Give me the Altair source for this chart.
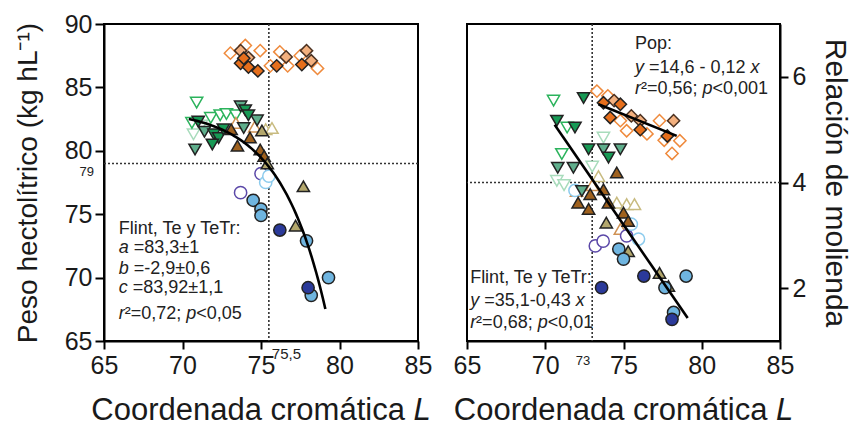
import math
import altair as alt
import pandas as pd

# ---------------- data ----------------
# Left panel: Coordenada cromática L  vs  Peso hectolítrico
l_pop_open_L = [73.05, 74.0, 74.95, 75.6, 76.7, 78.6, 76.2, 77.5]
l_pop_open_v = [87.7, 88.3, 87.9, 86.7, 86.7, 86.5, 87.8, 87.5]
l_pop_light_L = [73.7, 74.2, 77.9, 78.2, 76.6]
l_pop_light_v = [87.9, 87.35, 87.9, 87.1, 87.4]
l_pop_dark_L = [73.7, 74.2, 74.8, 76.0, 77.6, 73.9]
l_pop_dark_v = [86.9, 86.6, 86.3, 86.7, 86.8, 87.3]

l_fl_pale_L = [70.7, 71.2]
l_fl_pale_v = [81.3, 82.0]
l_fl_open_L = [70.9, 70.6, 71.8, 72.4, 72.8, 73.4]
l_fl_open_v = [83.8, 82.2, 82.6, 82.8, 82.9, 82.8]
l_fl_mid_L = [70.8, 73.7, 74.75, 73.9, 71.4]
l_fl_mid_v = [80.1, 83.5, 82.4, 81.8, 81.5]
l_fl_dark_L = [72.0, 72.3, 72.6, 74.0, 74.2, 71.9, 71.0]
l_fl_dark_v = [81.3, 81.0, 81.7, 83.2, 82.8, 80.5, 82.3]

l_te_openk_L = [75.3, 75.7]
l_te_openk_v = [81.7, 81.8]
l_te_openb_L = [73.4, 74.6]
l_te_openb_v = [82.2, 81.9]
l_te_brown_L = [73.5, 74.3, 74.95, 75.2, 73.1]
l_te_brown_v = [80.4, 81.05, 80.1, 79.6, 81.7]
l_te_khaki_L = [75.06, 75.4, 77.7, 77.2]
l_te_khaki_v = [81.6, 79.0, 77.2, 74.1]

l_tr_openp_L = [73.7, 75.0]
l_tr_openp_v = [76.7, 78.2]
l_tr_openl_L = [75.3, 75.5]
l_tr_openl_v = [77.5, 78.0]
l_tr_light_L = [74.5, 75.0, 75.0, 77.9, 78.2, 79.3]
l_tr_light_v = [76.1, 75.4, 74.9, 72.9, 68.6, 70.0]
l_tr_dark_L = [76.2, 78.0]
l_tr_dark_v = [73.75, 69.2]

# Right panel: Coordenada cromática L  vs  Relación de molienda
r_pop_open_L = [73.3, 74.0, 74.8, 75.2, 76.5, 77.3, 77.6, 78.1, 78.6]
r_pop_open_v = [5.73, 5.64, 5.17, 4.98, 4.92, 5.17, 4.8, 4.55, 4.79]
r_pop_light_L = [74.4, 75.5, 76.07, 78.2]
r_pop_light_v = [5.55, 5.26, 5.17, 5.17]
r_pop_dark_L = [73.72, 74.15, 74.8, 76.07, 77.8]
r_pop_dark_v = [5.51, 5.23, 5.48, 5.0, 4.88]

r_fl_pale_L = [73.72, 70.74, 73.0, 71.2]
r_fl_pale_v = [4.85, 4.03, 4.3, 3.95]
r_fl_open_L = [70.53, 71.4, 71.06]
r_fl_open_v = [5.55, 5.04, 4.54]
r_fl_mid_L = [73.72, 74.8, 70.8, 71.8, 72.34]
r_fl_mid_v = [4.63, 4.63, 4.28, 4.28, 3.84]
r_fl_dark_L = [72.45, 70.74, 71.9, 72.77, 74.04]
r_fl_dark_v = [5.6, 5.17, 5.04, 4.63, 4.47]

r_te_openk_L = [73.4, 74.57, 75.2, 75.7]
r_te_openk_v = [4.12, 3.62, 3.59, 3.59]
r_te_openb_L = [72.0, 74.8, 73.0]
r_te_openb_v = [3.84, 3.12, 3.95]
r_te_brown_L = [74.57, 72.87, 73.72, 72.1, 72.77, 74.04, 75.0, 75.3]
r_te_brown_v = [4.19, 3.78, 3.87, 3.62, 3.5, 3.62, 3.43, 3.27]
r_te_khaki_L = [73.9, 75.3, 77.3, 77.87]
r_te_khaki_v = [3.24, 2.7, 2.29, 2.04]

r_tr_openp_L = [73.2, 73.7, 75.2]
r_tr_openp_v = [2.8, 2.89, 2.99]
r_tr_openl_L = [75.5, 75.96, 71.9]
r_tr_openl_v = [3.21, 2.93, 3.85]
r_tr_light_L = [74.7, 75.0, 79.0, 77.65, 78.2]
r_tr_light_v = [2.74, 2.55, 2.23, 2.01, 1.54]
r_tr_dark_L = [73.6, 76.3, 78.1]
r_tr_dark_v = [2.01, 2.23, 1.41]

# fitted models (from the picture)
left_curve = dict(a=83.3, b=2.9, x0=71.1, xmin=70.4, xmax=79.1)
right_flint = dict(i=35.45, s=-0.43, xmin=70.6, xmax=79.1)
right_pop = dict(i=14.29, s=-0.12, xmin=73.4, xmax=78.4)

# reference lines
left_vline, left_hline = [75.5], [79]
right_vline, right_hline = [73], [4]

x_ticks = [65, 70, 75, 80, 85]
left_y_ticks = [65, 70, 75, 80, 85, 90]
right_y_ticks = [2, 4, 6]

# ---------------- styles ----------------
GROUPS = ["pop_open", "pop_light", "pop_dark",
          "fl_pale", "fl_open", "fl_mid", "fl_dark",
          "te_openk", "te_openb", "te_brown", "te_khaki",
          "tr_openp", "tr_openl", "tr_light", "tr_dark"]
SHAPE = {"pop": "diamond", "fl": "triangle-down", "te": "triangle-up", "tr": "circle"}
FILL = {"pop_open": "white", "pop_light": "#f3b07e", "pop_dark": "#e66f1c",
        "fl_pale": "white", "fl_open": "white", "fl_mid": "#5fae8c", "fl_dark": "#179a55",
        "te_openk": "white", "te_openb": "white", "te_brown": "#9f611e", "te_khaki": "#b3a76c",
        "tr_openp": "white", "tr_openl": "white", "tr_light": "#6fb5e0", "tr_dark": "#2b3a9a"}
STROKE = {"pop_open": "#ef8a3c", "pop_light": "#4a3020", "pop_dark": "#222222",
          "fl_pale": "#a8dcbc", "fl_open": "#2bb35c", "fl_mid": "#222222", "fl_dark": "#222222",
          "te_openk": "#c8bb80", "te_openb": "#cf9254", "te_brown": "#222222", "te_khaki": "#222222",
          "tr_openp": "#5b48a8", "tr_openl": "#8ccbed", "tr_light": "#222222", "tr_dark": "#222222"}
SIZE = {"pop": 150, "fl": 150, "te": 150, "tr": 115}

FONT = "Liberation Sans"
TXT = 18
TITLE = 31
W = {'F': .611, 'l': .222, 'i': .222, 'n': .556, 't': .278, ',': .278, ' ': .278, 'T': .611,
     'e': .556, 'y': .5, 'r': .333, ':': .278, 'a': .556, '=': .584, '.': .278, '±': .584,
     'b': .556, '-': .333, 'c': .5, '²': .333, ';': .278, 'p': .556, '<': .584, 'P': .667,
     'o': .556, 'x': .5, 'C': .722, 'd': .556, 'm': .833, 'á': .556, 'L': .556}


def tw(s, size=TXT):
    return sum(W.get(c, .556) for c in s) * size


def points(prefix_lists):
    rows = []
    for g, Ls, vs in prefix_lists:
        for L, v in zip(Ls, vs):
            rows.append(dict(kind="pt", grp=g, L=L, v=v))
    return rows


def text_rows(lines, x0, ppu):
    rows = []
    for yv, pieces in lines:
        off = 0.0
        for txt, it in pieces:
            lead = len(txt) - len(txt.lstrip(" "))
            off += tw(" " * lead)
            body = txt.lstrip(" ")
            rows.append(dict(kind="txt", L=x0 + off / ppu, v=yv, text=body.rstrip(" "),
                             it="it" if it else "n"))
            off += tw(body)
    return rows


def group_rows(spec):
    return points(spec)


left_pts = points([
    ("pop_open", l_pop_open_L, l_pop_open_v), ("pop_light", l_pop_light_L, l_pop_light_v),
    ("pop_dark", l_pop_dark_L, l_pop_dark_v),
    ("fl_pale", l_fl_pale_L, l_fl_pale_v), ("fl_open", l_fl_open_L, l_fl_open_v),
    ("te_openk", l_te_openk_L, l_te_openk_v), ("te_openb", l_te_openb_L, l_te_openb_v),
    ("tr_openp", l_tr_openp_L, l_tr_openp_v), ("tr_openl", l_tr_openl_L, l_tr_openl_v),
    ("fl_mid", l_fl_mid_L, l_fl_mid_v), ("fl_dark", l_fl_dark_L, l_fl_dark_v),
    ("te_brown", l_te_brown_L, l_te_brown_v), ("te_khaki", l_te_khaki_L, l_te_khaki_v),
    ("tr_light", l_tr_light_L, l_tr_light_v), ("tr_dark", l_tr_dark_L, l_tr_dark_v),
])
right_pts = points([
    ("pop_open", r_pop_open_L, r_pop_open_v), ("pop_light", r_pop_light_L, r_pop_light_v),
    ("pop_dark", r_pop_dark_L, r_pop_dark_v),
    ("fl_pale", r_fl_pale_L, r_fl_pale_v), ("fl_open", r_fl_open_L, r_fl_open_v),
    ("te_openk", r_te_openk_L, r_te_openk_v), ("te_openb", r_te_openb_L, r_te_openb_v),
    ("tr_openp", r_tr_openp_L, r_tr_openp_v), ("tr_openl", r_tr_openl_L, r_tr_openl_v),
    ("fl_mid", r_fl_mid_L, r_fl_mid_v), ("fl_dark", r_fl_dark_L, r_fl_dark_v),
    ("te_brown", r_te_brown_L, r_te_brown_v), ("te_khaki", r_te_khaki_L, r_te_khaki_v),
    ("tr_light", r_tr_light_L, r_tr_light_v), ("tr_dark", r_tr_dark_L, r_tr_dark_v),
])

# fit lines
left_fit = []
n = 60
for k in range(n + 1):
    x = left_curve["xmin"] + (left_curve["xmax"] - left_curve["xmin"]) * k / n
    y = left_curve["a"] - math.exp((x - left_curve["x0"]) / left_curve["b"])
    left_fit.append(dict(kind="fit", grp="flint", L=x, v=y))
right_fit = []
for name, p in (("flint", right_flint), ("pop", right_pop)):
    for x in (p["xmin"], p["xmax"]):
        right_fit.append(dict(kind="fit", grp=name, L=x, v=p["i"] + p["s"] * x))

W_L, W_R, H = 314, 313, 317
left_txt = text_rows([
    (73.41, [("Flint, Te y TeTr:", False)]),
    (71.94, [("a", True), (" =83,3±1", False)]),
    (70.28, [("b", True), (" =-2,9±0,6", False)]),
    (68.78, [("c", True), (" =83,92±1,1", False)]),
    (66.73, [("r", True), ("²=0,72; ", False), ("p", True), ("<0,05", False)]),
], 65.94, W_L / 20)
right_txt = text_rows([
    (2.10, [("Flint, Te y TeTr:", False)]),
    (1.66, [("y", True), (" =35,1-0,43 ", False), ("x", True)]),
    (1.25, [("r", True), ("²=0,68; ", False), ("p", True), ("<0,01", False)]),
], 65.2, W_R / 20) + text_rows([
    (6.53, [("Pop:", False)]),
    (6.08, [("y", True), (" =14,6 - 0,12 ", False), ("x", True)]),
    (5.68, [("r", True), ("²=0,56; ", False), ("p", True), ("<0,001", False)]),
], 75.73, W_R / 20)

ldf = pd.DataFrame(left_pts + left_fit + left_txt)
rdf = pd.DataFrame(right_pts + right_fit + right_txt)

# x title pieces: "Coordenada cromática " + italic "L"
XT_MAIN, XT_IT = "Coordenada cromática", "L"
xt_total = tw(XT_MAIN + " " + XT_IT, TITLE)
xt_dx0 = -xt_total / 2
xt_dx1 = xt_dx0 + tw(XT_MAIN + " ", TITLE)

# ---------------- chart ----------------
x_axis = alt.Axis(values=x_ticks, title=None, grid=False, labelFlush=False,
                  labelOverlap=False, tickSize=8, labelPadding=4)
X = alt.X("L:Q", scale=alt.Scale(domain=[65, 85], nice=False, zero=False), axis=x_axis)
YL = alt.Y("v:Q", scale=alt.Scale(domain=[65, 90], nice=False, zero=False),
           axis=alt.Axis(values=left_y_ticks, title="Peso hectolítrico (kg hL⁻¹)", grid=False,
                         tickSize=9, labelPadding=3, titlePadding=22, labelOverlap=False))
YR = alt.Y("v:Q", scale=alt.Scale(domain=[1, 7], nice=False, zero=False),
           axis=alt.Axis(values=right_y_ticks, title="Relación de molienda", orient="right",
                         grid=False, tickSize=8, labelPadding=4, titlePadding=14,
                         labelOverlap=False, titleFontSize=30))

enc_pt = dict(
    shape=alt.Shape("grp:N", scale=alt.Scale(domain=GROUPS, range=[SHAPE[g.split('_')[0]] for g in GROUPS]), legend=None),
    fill=alt.Fill("grp:N", scale=alt.Scale(domain=GROUPS, range=[FILL[g] for g in GROUPS]), legend=None),
    stroke=alt.Stroke("grp:N", scale=alt.Scale(domain=GROUPS, range=[STROKE[g] for g in GROUPS]), legend=None),
    size=alt.Size("grp:N", scale=alt.Scale(domain=GROUPS, range=[SIZE[g.split('_')[0]] for g in GROUPS]), legend=None),
)


def panel(df, Y, ymin, vline, hline, w, small_labels):
    base = alt.Chart(df).encode(x=X, y=Y)
    vr = alt.Chart(pd.DataFrame({"L": vline})).mark_rule(
        color="#333", strokeDash=[2, 2], strokeWidth=1.6).encode(x=X)
    hr = alt.Chart(pd.DataFrame({"v": hline})).mark_rule(
        color="#333", strokeDash=[2, 2], strokeWidth=1.6).encode(y=Y)
    fit = base.transform_filter(alt.datum.kind == "fit").mark_line(
        color="black", strokeWidth=2.6).encode(detail="grp:N")
    pts = base.transform_filter(alt.datum.kind == "pt").mark_point(
        filled=True, opacity=1, strokeWidth=1.5).encode(**enc_pt)
    tn = base.transform_filter((alt.datum.kind == "txt") & (alt.datum.it == "n")).mark_text(
        align="left", baseline="alphabetic", font=FONT, fontSize=TXT, color="#222").encode(text="text:N")
    ti = base.transform_filter((alt.datum.kind == "txt") & (alt.datum.it == "it")).mark_text(
        align="left", baseline="alphabetic", font=FONT, fontSize=TXT, fontStyle="italic",
        color="#222").encode(text="text:N")
    tdf = pd.DataFrame({"L": [75], "v": [ymin], "t": [XT_MAIN]})
    t_main = alt.Chart(tdf).mark_text(
        align="left", baseline="alphabetic", dx=xt_dx0, dy=79, font=FONT, fontSize=TITLE,
        color="#1a1a1a").encode(x=X, y=Y, text="t:N")
    t_it = alt.Chart(tdf.assign(t=[XT_IT])).mark_text(
        align="left", baseline="alphabetic", dx=xt_dx1, dy=79, font=FONT, fontSize=TITLE,
        fontStyle="italic", color="#1a1a1a").encode(x=X, y=Y, text="t:N")
    layers = [vr, hr, pts, fit, tn, ti, t_main, t_it] + small_labels
    return alt.layer(*layers).properties(width=w, height=H)


sl_left = [
    alt.Chart(pd.DataFrame({"L": [65], "v": left_hline, "t": ["79"]})).mark_text(
        align="right", baseline="middle", dx=-10, dy=9, font=FONT, fontSize=13, color="#222"
    ).encode(x=X, y=YL, text="t:N"),
    alt.Chart(pd.DataFrame({"L": left_vline, "v": [65], "t": ["75,5"]})).mark_text(
        align="left", baseline="middle", dx=3, dy=13, font=FONT, fontSize=15, color="#222"
    ).encode(x=X, y=YL, text="t:N"),
]
sl_right = [
    alt.Chart(pd.DataFrame({"L": right_vline, "v": [1], "t": ["73"]})).mark_text(
        align="right", baseline="middle", dx=-2, dy=20, font=FONT, fontSize=13, color="#222"
    ).encode(x=X, y=YR, text="t:N"),
]

left = panel(ldf, YL, 65, left_vline, left_hline, W_L, sl_left)
right = panel(rdf, YR, 1, right_vline, right_hline, W_R, sl_right)

chart = alt.hconcat(left, right, spacing=49, bounds="flush").properties(
    padding={"left": 5, "top": 3, "right": 2, "bottom": 0}
).configure_view(stroke="black", strokeWidth=2).configure_axis(
    domainColor="black", domainWidth=2, tickColor="black", tickWidth=2,
    labelFont=FONT, labelFontSize=25, labelColor="#1a1a1a",
    titleFont=FONT, titleFontSize=28, titleFontWeight="normal", titleColor="#1a1a1a"
)

chart.save("out.html", embed_options={"renderer": "svg", "actions": False})
